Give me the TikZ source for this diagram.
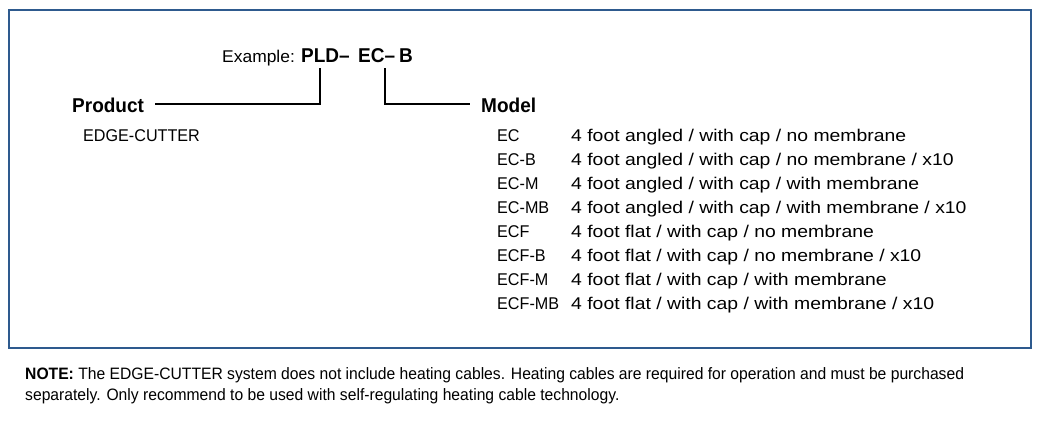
\documentclass[tikz,border=0pt]{standalone}
\usepackage{fontspec}
\setmainfont[FakeStretch=0.95]{Liberation Sans}
\definecolor{frame}{HTML}{2E5A8E}
\begin{document}
\begin{tikzpicture}[x=1pt,y=-1pt,
  txt/.style={anchor=base west,inner sep=0pt,font=\fontsize{17}{19}\selectfont},
  bld/.style={txt,font=\fontsize{20}{22}\selectfont\bfseries},
  ln/.style={line width=1.3pt,black}]
\useasboundingbox (0,0) rectangle (1038,424);
\draw[frame,line width=1.3pt] (9,10) rectangle (1031,348);
\node[txt] (ex) at (222,62) {\scalebox{1.08}[1]{Example:}};
\node[bld] (pld) at (301,62) {PLD–};
\node[bld] (ec) at (358,62) {EC–};
\node[bld] (b) at (399,62) {B};
\node[bld] (prod) at (72,112) {Product};
\node[bld] (model) at (481,112) {Model};
\node[txt] (edge) at (83,141) {EDGE-CUTTER};
\coordinate (pe) at (155,104);
\coordinate (me) at (470,104);
\draw[ln] (320,68) |- (pe);
\draw[ln] (385,68) |- (me);
\foreach \m/\d [count=\i from 0] in {EC/{4 foot angled / with cap / no membrane},
 EC-B/{4 foot angled / with cap / no membrane / x10},
 EC-M/{4 foot angled / with cap / with membrane},
 EC-MB/{4 foot angled / with cap / with membrane / x10},
 ECF/{4 foot flat / with cap / no membrane},
 ECF-B/{4 foot flat / with cap / no membrane / x10},
 ECF-M/{4 foot flat / with cap / with membrane},
 ECF-MB/{4 foot flat / with cap / with membrane / x10}}{
  \node[txt] (m\i) at (497,141+24*\i) {\m};
  \node[txt] (d\i) at (571,141+24*\i) {\scalebox{1.2}[1]{\d}};
}
\node[txt,font=\fontsize{16.5}{18}\selectfont] (n1) at (25,379) {\textbf{NOTE:} The EDGE-CUTTER system does not include heating cables. Heating cables are required for operation and must be purchased};
\node[txt,font=\fontsize{16.5}{18}\selectfont] (n2) at (25,400) {separately. Only recommend to be used with self-regulating heating cable technology.};
\end{tikzpicture}
\end{document}
